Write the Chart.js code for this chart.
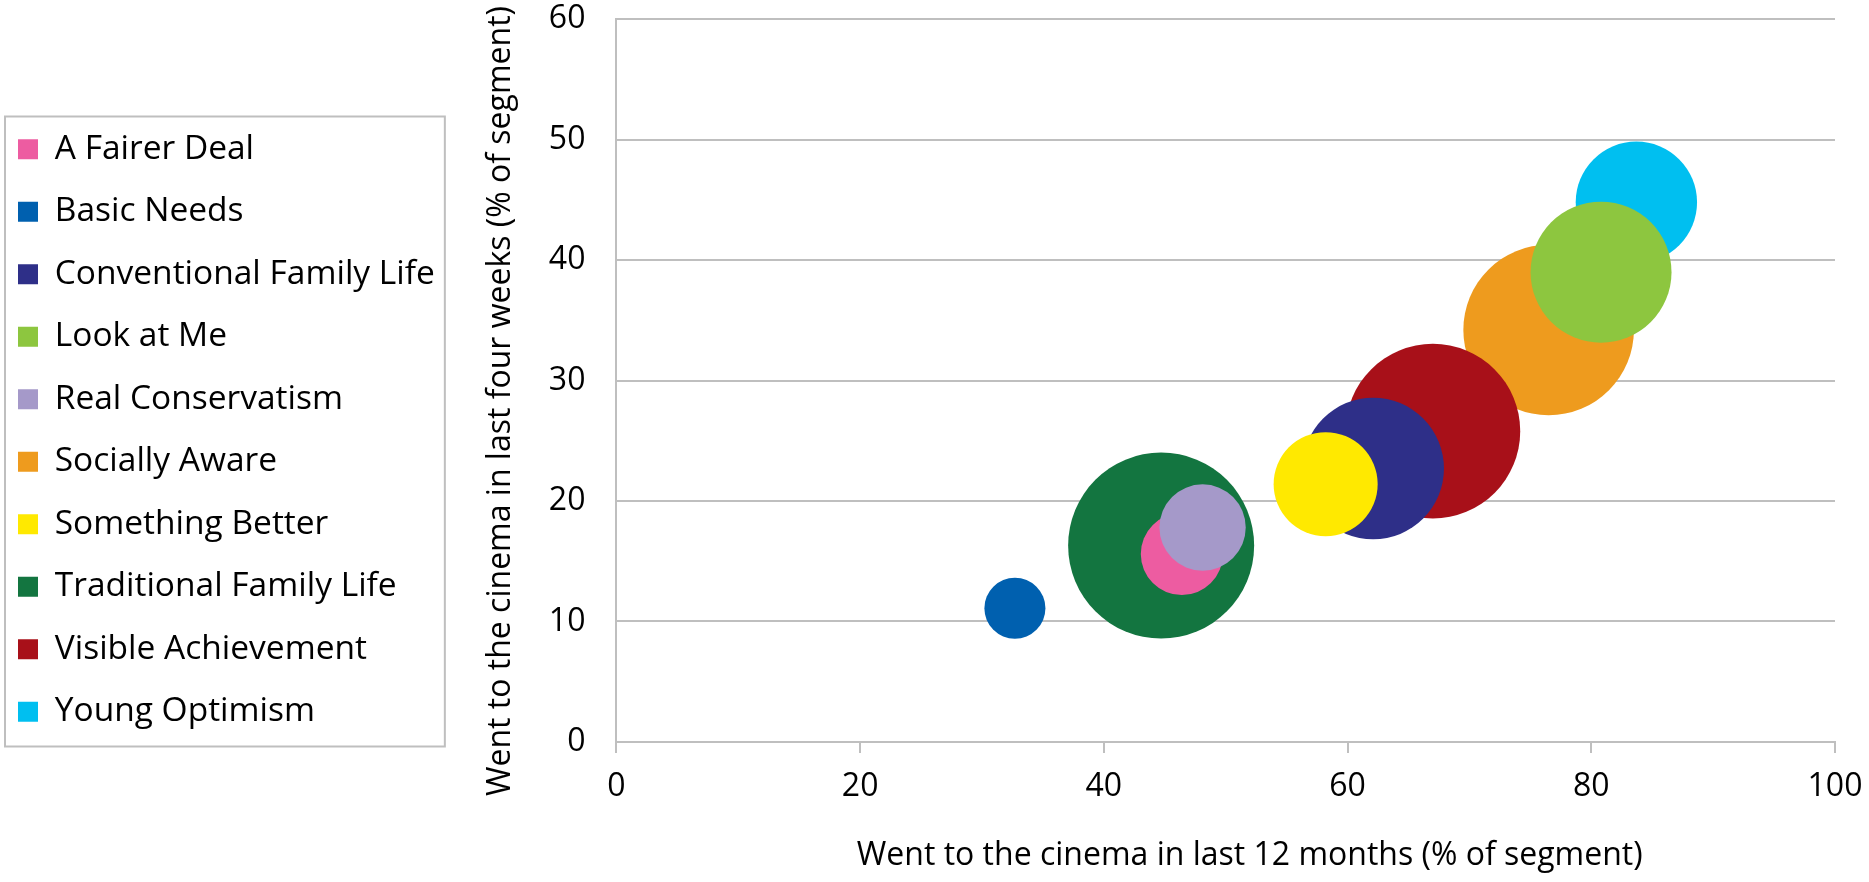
<!DOCTYPE html>
<html>
<head>
<meta charset="utf-8">
<script src="https://cdn.jsdelivr.net/npm/chart.js@4.4.1/dist/chart.umd.min.js"></script>
<style>
    html, body { margin: 0; padding: 0; background: #fff; }
    #canvas-holder { width: 1869px; height: 882px; }
</style>
</head>
<body>
<div id="canvas-holder"><canvas id="cinema" width="1869" height="882"></canvas></div>
<script>
// segments, in legend order
let segments = ["A Fairer Deal", "Basic Needs", "Conventional Family Life", "Look at Me",
    "Real Conservatism", "Socially Aware", "Something Better", "Traditional Family Life",
    "Visible Achievement", "Young Optimism"]
// went to the cinema in last 12 months (% of segment)
let lastYear = [46.4, 32.7, 62.1, 80.8, 48.1, 76.5, 58.2, 44.7, 67.0, 83.7]
// went to the cinema in last four weeks (% of segment)
let lastMonth = [15.6, 11.1, 22.7, 39.0, 17.8, 34.2, 21.4, 16.3, 25.8, 44.8]
// segment size (% of population), shown as bubble area
let segmentSize = [3.8, 2.1, 11.3, 11.2, 4.2, 16.4, 6.1, 19.5, 17.2, 8.3]
let xTicks = [0, 20, 40, 60, 80, 100]
let yTicks = [0, 10, 20, 30, 40, 50, 60]

let colors = ["#ED5CA1", "#0060AF", "#2E2F88", "#8DC63F", "#A599C9",
    "#EE9B1E", "#FFE900", "#137540", "#A81019", "#00BFF0"]
// stacking of the bubbles, 0 = drawn on top
let layer = [8, 0, 2, 4, 7, 5, 1, 9, 3, 6]

let xTitle = "Went to the cinema in last 12 months (% of segment)"
let yTitle = "Went to the cinema in last four weeks (% of segment)"

let font = "Open Sans"
let gridGrey = "#BFBFBF"
let maxBubble = 93
let maxSize = Math.max(...segmentSize)

let datasets = segments.map(function(name, i){
    return {
        label: name,
        data: [{
            x: lastYear[i],
            y: lastMonth[i],
            r: maxBubble * Math.sqrt(segmentSize[i] / maxSize)
        }],
        backgroundColor: colors[i],
        borderWidth: 0,
        hoverBorderWidth: 0,
        order: layer[i]
    }
})

function drawTitle(ctx, text, x, y, rotate){
    ctx.save()
    ctx.font = "32px '" + font + "'"
    ctx.fillStyle = "#000"
    ctx.textAlign = "center"
    ctx.textBaseline = "middle"
    ctx.translate(x, y)
    if (rotate) ctx.rotate(-Math.PI / 2)
    ctx.fillText(text, 0, 0)
    ctx.restore()
}

// legend frame and the axis titles, placed the way the original has them
let frame = {
    id: "frame",
    afterLayout(chart){
        let lg = chart.legend
        lg.left -= 11
        lg.right -= 11
        lg.top -= 20
        lg.bottom -= 20
    },
    afterDraw(chart){
        let ctx = chart.ctx
        let boxes = chart.legend.legendHitBoxes
        if (boxes && boxes.length){
            let first = boxes[0]
            let last = boxes[boxes.length - 1]
            let x0 = first.left - 13
            let y0 = first.top - 16
            ctx.save()
            ctx.strokeStyle = gridGrey
            ctx.lineWidth = 2
            ctx.strokeRect(x0, y0, chart.legend.right - x0,
                last.top + last.height + 18 - y0)
            ctx.restore()
        }
        let area = chart.chartArea
        ctx.save()
        ctx.font = "32px '" + font + "'"
        let w = ctx.measureText(yTitle).width
        ctx.restore()
        let cy = Math.max((area.top + area.bottom) / 2, 6 + w / 2)
        drawTitle(ctx, yTitle, area.left - 116, cy, true)
        drawTitle(ctx, xTitle, (area.left + area.right) / 2 + 24, area.bottom + 114, false)
    }
}

let chart = new Chart(
    document.querySelector("#cinema"),
    {
        type: "bubble",
        data: { datasets: datasets },
        options: {
            responsive: false,
            animation: false,
            layout: {
                autoPadding: false,
                padding: { top: 19, right: 34, bottom: 0, left: 0 }
            },
            plugins: {
                legend: {
                    position: "left",
                    labels: {
                        color: "#000",
                        font: { family: font, size: 33.5 },
                        boxWidth: 20,
                        boxHeight: 20,
                        padding: 29,
                        sort: function(a, b){ return a.datasetIndex - b.datasetIndex }
                    }
                },
                tooltip: { enabled: false }
            },
            scales: {
                x: {
                    type: "linear",
                    min: xTicks[0],
                    max: xTicks[xTicks.length - 1],
                    ticks: {
                        stepSize: xTicks[1] - xTicks[0],
                        color: "#000",
                        font: { family: font, size: 32, lineHeight: 2.14 },
                        padding: 0
                    },
                    grid: {
                        drawOnChartArea: false,
                        drawTicks: true,
                        tickLength: 11,
                        color: gridGrey,
                        lineWidth: 2
                    },
                    border: { color: gridGrey, width: 2 },
                    afterFit: function(scale){
                        scale.height += 60.6
                    }
                },
                y: {
                    type: "linear",
                    min: yTicks[0],
                    max: yTicks[yTicks.length - 1],
                    ticks: {
                        stepSize: yTicks[1] - yTicks[0],
                        color: "#000",
                        font: { family: font, size: 32 },
                        padding: 0
                    },
                    grid: {
                        drawTicks: true,
                        tickLength: 31,
                        tickColor: "rgba(0,0,0,0)",
                        color: gridGrey,
                        lineWidth: 2
                    },
                    border: { color: gridGrey, width: 2 },
                    afterFit: function(scale){
                        scale.width += 93
                    }
                }
            }
        },
        plugins: [frame]
    }
)
</script>
</body>
</html>
